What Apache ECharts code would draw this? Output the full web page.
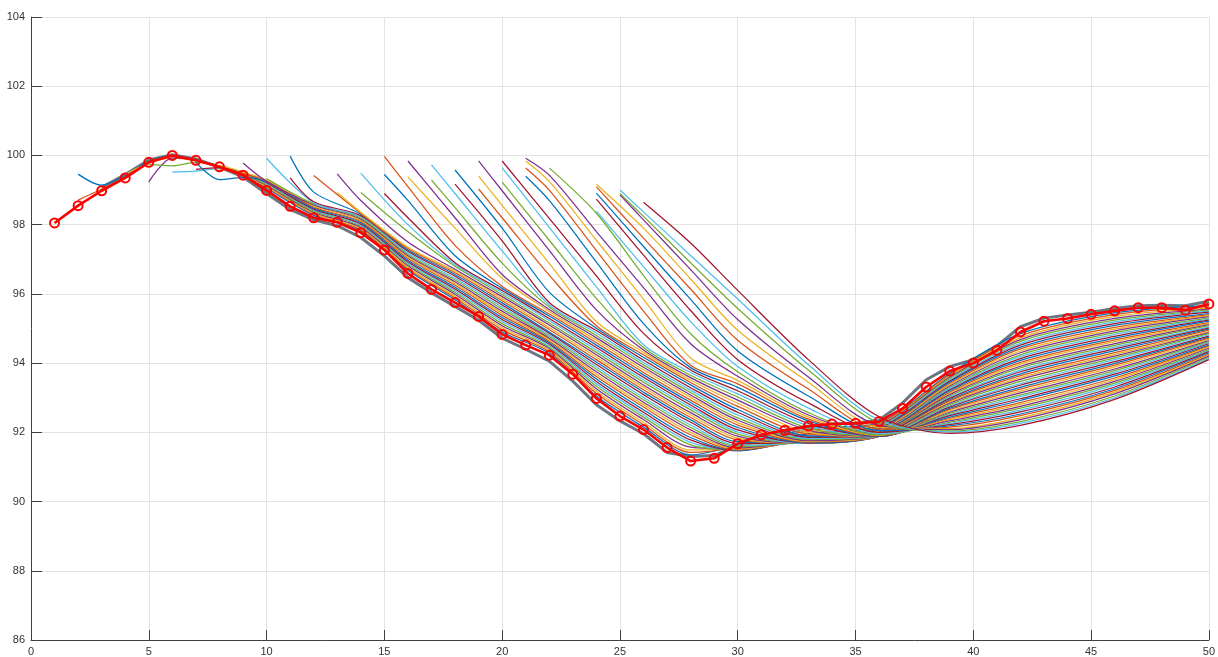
<!DOCTYPE html>
<html>
<head>
<meta charset="utf-8">
<script src="https://cdn.jsdelivr.net/npm/echarts@6/dist/echarts.min.js"></script>
<style>
  html, body { margin: 0; padding: 0; background: #ffffff; }
  #chart { width: 1218px; height: 657px; }
</style>
</head>
<body>
<div id="chart"></div>
<script>
// Observed path (red, with circle markers), x = 1..50
const observedX = [1,2,3,4,5,6,7,8,9,10,11,12,13,14,15,16,17,18,19,20,21,22,23,24,25,26,27,28,29,30,31,32,33,34,35,36,37,38,39,40,41,42,43,44,45,46,47,48,49,50];
const observedY = [98.05,98.55,98.98,99.35,99.8,100.0,99.86,99.67,99.43,98.99,98.53,98.2,98.07,97.77,97.27,96.59,96.13,95.75,95.35,94.83,94.52,94.23,93.68,92.98,92.47,92.08,91.56,91.17,91.25,91.67,91.93,92.06,92.18,92.24,92.26,92.31,92.69,93.31,93.77,94.0,94.37,94.9,95.21,95.29,95.41,95.51,95.6,95.6,95.53,95.71];

// Grey outline path, x = 3..50
const outlineX = [3,4,5,6,7,8,9,10,11,12,13,14,15,16,17,18,19,20,21,22,23,24,25,26,27,28,29,30,31,32,33,34,35,36,37,38,39,40,41,42,43,44,45,46,47,48,49,50];
const outlineY = [99.08,99.45,99.87,100.02,99.9,99.66,99.38,98.9,98.44,98.14,97.97,97.63,97.1,96.47,96.03,95.64,95.24,94.72,94.4,94.06,93.48,92.8,92.33,91.96,91.42,91.3,91.33,91.62,91.9,92.05,92.17,92.24,92.26,92.36,92.85,93.52,93.9,94.1,94.5,95.05,95.3,95.39,95.47,95.58,95.66,95.67,95.66,95.79];

// Path family: each path starts at [x, y]; the following values sit on pathGridX after that start x
const pathGridX = [3,4,5,6,7,8,9,10,12,14,16,18,20,22,24,26,28,30,33,36,39,42,46,50];
const pathStarts = [
  [2,99.46],[2,98.71],[4,99.45],[5,99.23],[5,99.75],[6,99.52],[7,99.60],[7,99.80],[8,99.62],[8,99.72],
  [9,99.78],[10,99.33],[10,99.92],[11,99.35],[11,99.98],[12,99.42],[13,98.93],[13,99.47],[14,98.93],[14,99.49],
  [15,98.90],[15,99.45],[15,99.97],[16,99.38],[16,99.84],[17,99.29],[17,99.73],[18,99.17],[18,99.58],[19,99.03],
  [19,99.40],[19,99.84],[20,99.23],[20,99.64],[20,99.84],[21,99.40],[21,99.64],[21,99.84],[21,99.92],[22,99.64],
  [24,98.39],[24,98.74],[24,98.91],[24,99.09],[24,99.17],[25,98.86],[25,98.90],[25,99.00],[26,98.65]
];
const pathValues = [
  [99.14,99.42,99.83,99.98,99.86,99.68,99.46, 99.05,98.27,97.82,96.68,95.83,94.90,94.28,93.05,92.15,91.35, 91.62,92.10,92.28,93.70,94.85,95.45,95.66],
  [99.03,99.38,99.80,99.97,99.85,99.68,99.45, 99.08,98.30,97.85,96.72,95.88,94.96,94.33,93.12,92.22,91.42, 91.58,92.05,92.25,93.66,94.79,95.40,95.63],
  [99.78,99.92,99.84,99.66,99.45, 99.10,98.33,97.89,96.76,95.93,95.02,94.37,93.19,92.29,91.49, 91.55,92.00,92.22,93.63,94.73,95.35,95.59],
  [99.93,99.86,99.69,99.47, 99.13,98.36,97.92,96.81,95.99,95.08,94.42,93.26,92.37,91.57, 91.52,91.96,92.20,93.59,94.68,95.29,95.56],
  [99.70,99.80,99.70,99.48, 99.16,98.39,97.96,96.85,96.04,95.14,94.46,93.33,92.44,91.64, 91.50,91.92,92.17,93.56,94.63,95.24,95.53],
  [99.55,99.62,99.50, 99.19,98.42,97.99,96.89,96.09,95.20,94.51,93.40,92.51,91.71, 91.48,91.88,92.14,93.52,94.57,95.19,95.50],
  [99.65,99.50, 99.21,98.45,98.02,96.93,96.14,95.26,94.55,93.47,92.58,91.78, 91.47,91.85,92.11,93.48,94.52,95.14,95.47],
  [99.30,99.36, 99.24,98.48,98.06,96.97,96.19,95.32,94.59,93.54,92.65,91.85, 91.47,91.82,92.08,93.45,94.46,95.09,95.43],
  [99.48, 99.27,98.51,98.09,97.02,96.25,95.38,94.63,93.61,92.73,91.93, 91.49,91.79,92.05,93.41,94.41,95.03,95.40],
  [99.52, 99.29,98.54,98.13,97.06,96.30,95.44,94.68,93.68,92.80,92.00, 91.52,91.77,92.03,93.38,94.35,94.98,95.37],
  [99.25,98.57,98.16,97.10,96.35,95.50,94.72,93.75,92.87,92.07, 91.55,91.75,92.00,93.34,94.30,94.93,95.34],
  [98.60,98.19,97.14,96.40,95.56,94.77,93.82,92.94,92.14, 91.59,91.73,91.98,93.30,94.24,94.88,95.30],
  [98.63,98.23,97.18,96.45,95.62,94.81,93.89,93.01,92.21, 91.63,91.72,91.96,93.27,94.19,94.83,95.27],
  [98.66,98.26,97.23,96.51,95.68,94.86,93.96,93.09,92.29, 91.68,91.71,91.95,93.23,94.13,94.77,95.24],
  [98.94,98.30,97.27,96.56,95.74,94.90,94.03,93.16,92.36, 91.73,91.70,91.94,93.20,94.08,94.72,95.21],
  [98.33,97.31,96.61,95.80,94.97,94.10,93.23,92.43, 91.78,91.69,91.93,93.16,94.02,94.67,95.17],
  [98.36,97.35,96.66,95.86,95.03,94.17,93.30,92.50, 91.83,91.68,91.92,93.12,93.97,94.62,95.14],
  [98.70,97.50,96.71,95.92,95.10,94.24,93.37,92.57, 91.89,91.68,91.91,93.09,93.91,94.56,95.11],
  [97.80,96.80,95.98,95.16,94.31,93.45,92.65, 91.95,91.68,91.90,93.05,93.86,94.51,95.08],
  [98.00,96.85,96.04,95.23,94.38,93.52,92.72, 92.01,91.68,91.89,93.01,93.80,94.46,95.04],
  [98.20,96.90,96.10,95.29,94.45,93.59,92.79, 92.07,91.69,91.89,92.98,93.75,94.41,95.01],
  [98.70,97.10,96.16,95.36,94.52,93.66,92.86, 92.14,91.70,91.88,92.94,93.69,94.36,94.98],
  [99.10,97.40,96.22,95.42,94.59,93.73,92.93, 92.21,91.72,91.88,92.91,93.64,94.30,94.95],
  [97.90,96.45,95.49,94.66,93.81,93.01, 92.28,91.74,91.88,92.87,93.58,94.25,94.91],
  [98.20,96.56,95.55,94.73,93.88,93.08, 92.35,91.76,91.88,92.84,93.53,94.20,94.88],
  [98.49,96.89,95.62,94.80,93.95,93.15, 92.42,91.79,91.88,92.80,93.47,94.15,94.85],
  [98.90,97.24,95.68,94.87,94.02,93.22, 92.50,91.82,91.88,92.76,93.41,94.10,94.82],
  [97.53,95.75,94.94,94.09,93.29, 92.58,91.86,91.88,92.73,93.36,94.04,94.78],
  [97.90,96.05,95.01,94.17,93.37, 92.66,91.90,91.88,92.69,93.30,93.99,94.75],
  [98.20,96.54,95.08,94.24,93.44, 92.75,91.95,91.88,92.66,93.25,93.94,94.72],
  [98.56,96.88,95.20,94.31,93.51, 92.84,92.00,91.88,92.62,93.19,93.89,94.69],
  [98.98,97.26,95.54,94.38,93.58, 92.93,92.06,91.88,92.58,93.14,93.83,94.65],
  [97.55,95.87,94.45,93.65, 93.02,92.12,91.89,92.55,93.08,93.78,94.62],
  [97.92,96.20,94.53,93.73, 93.11,92.19,91.89,92.51,93.03,93.73,94.59],
  [98.18,96.52,94.86,93.80, 93.20,92.26,91.89,92.48,92.97,93.68,94.56],
  [98.70,96.92,95.14,93.87, 93.30,92.33,91.90,92.44,92.92,93.63,94.52],
  [99.00,97.25,95.50,93.94, 93.40,92.38,91.91,92.40,92.86,93.57,94.49],
  [99.25,97.55,95.85,94.15, 93.50,92.44,91.92,92.37,92.81,93.52,94.46],
  [99.43,97.80,96.18,94.56, 93.62,92.50,91.94,92.33,92.75,93.47,94.43],
  [98.33,96.53,94.85, 93.75,92.57,91.93,92.29,92.70,93.42,94.39],
  [96.79,95.20, 93.90,92.70,91.96,92.26,92.64,93.37,94.36],
  [97.12,95.52, 94.10,92.85,92.00,92.22,92.59,93.31,94.33],
  [97.37,95.84, 94.35,93.05,92.05,92.19,92.53,93.26,94.30],
  [97.61,96.14, 94.66,93.25,92.10,92.15,92.48,93.21,94.26],
  [97.90,96.43, 94.95,93.45,92.15,92.11,92.42,93.16,94.23],
  [98.14,96.70, 95.26,93.60,92.20,92.08,92.37,93.11,94.20],
  [98.24,96.90, 95.58,93.80,92.27,92.04,92.31,93.05,94.17],
  [98.37,97.11, 95.85,93.95,92.35,92.01,92.26,93.00,94.13],
  [97.47, 96.10,94.10,92.45,91.97,92.20,92.95,94.10]
];

// Axis tick steps
const xTickStep = 5;
const yTickStep = 2;

const palette = ['#0072BD', '#D95319', '#EDB120', '#7E2F8E', '#77AC30', '#4DBEEE', '#A2142F'];

const series = [];

// grey outline sits beneath the coloured family
series.push({
  type: 'line',
  data: outlineX.map((x, i) => [x, outlineY[i]]),
  symbol: 'none',
  lineStyle: { color: '#6b7682', width: 3 },
  z: 2
});

pathStarts.forEach((start, i) => {
  const xs = pathGridX.filter(x => x > start[0]);
  const pts = [[start[0], start[1]]];
  pathValues[i].forEach((y, j) => pts.push([xs[j], y]));
  series.push({
    type: 'line',
    data: pts,
    symbol: 'none',
    smooth: 0.3,
    lineStyle: { color: palette[i % palette.length], width: 1.25 },
    z: 3
  });
});

series.push({
  type: 'line',
  data: observedX.map((x, i) => [x, observedY[i]]),
  symbol: 'circle',
  symbolSize: 9,
  showAllSymbol: true,
  lineStyle: { color: '#ff0000', width: 2.6 },
  itemStyle: { color: 'rgba(255,255,255,0)', borderColor: '#ff0000', borderWidth: 2 },
  z: 5
});

const axisText = { color: '#333333', fontSize: 11, fontFamily: 'Liberation Sans, Arial, sans-serif' };

const chart = echarts.init(document.getElementById('chart'), null, { renderer: 'canvas' });
chart.setOption({
  animation: false,
  backgroundColor: '#ffffff',
  grid: { left: 31, right: 8, top: 17, bottom: 17 },
  xAxis: {
    type: 'value', min: 0, max: 50, interval: xTickStep,
    axisLine: { show: true, lineStyle: { color: '#404040', width: 1 } },
    axisTick: { show: true, inside: true, length: 10, lineStyle: { color: '#404040' } },
    axisLabel: Object.assign({ margin: 6 }, axisText),
    splitLine: { show: true, lineStyle: { color: '#e3e3e3', width: 1 } }
  },
  yAxis: {
    type: 'value', min: 86, max: 104, interval: yTickStep,
    axisLine: { show: true, lineStyle: { color: '#404040', width: 1 } },
    axisTick: { show: true, inside: true, length: 11, lineStyle: { color: '#404040' } },
    axisLabel: Object.assign({ margin: 6 }, axisText),
    splitLine: { show: true, lineStyle: { color: '#e3e3e3', width: 1 } }
  },
  series: series
});
</script>
</body>
</html>
